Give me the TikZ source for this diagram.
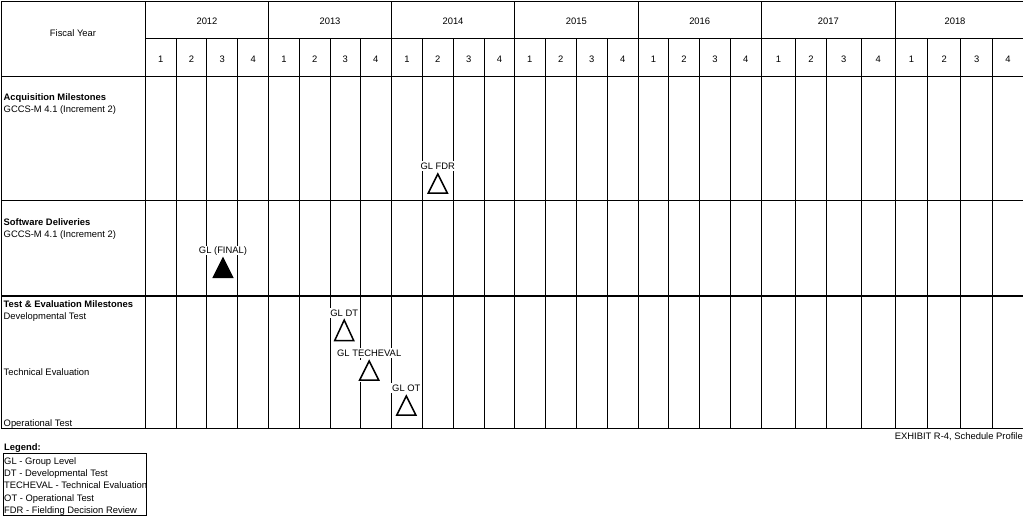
\documentclass[tikz,border=0pt]{standalone}
\usepackage{fontspec}
\setmainfont{Liberation Sans}
\usepackage{tikz}
\usetikzlibrary{positioning}

\begin{document}
\begin{tikzpicture}[
    x=1pt, y=-1pt,
    grid/.style={line width=0.8pt, black},
    heading/.style={font=\fontsize{9.4}{11}\selectfont, inner sep=0pt},
    rowtitle/.style={font=\fontsize{9.4}{11}\selectfont\bfseries, anchor=base west, inner sep=0pt},
    rowtext/.style={font=\fontsize{9.4}{11}\selectfont, anchor=base west, inner sep=0pt},
    tag/.style={font=\fontsize{9.4}{11}\selectfont, fill=white, inner sep=1.5pt, text height=6.8pt, text depth=0pt},
    tri/.style={minimum width=24pt, minimum height=22pt, inner sep=0pt, fill=white,
        path picture={\draw[line width=1.5pt, fill=#1]
            ([shift={(2.5pt,1.5pt)}]path picture bounding box.south west) --
            ([yshift=-1.5pt]path picture bounding box.north) --
            ([shift={(-2.5pt,1.5pt)}]path picture bounding box.south east) -- cycle;}},
    tri/.default=white
]
    \useasboundingbox (0,0) rectangle (1023,520);

    % Table frame
    \draw[grid] (1,1) -- (1023,1);
    \draw[grid] (145.3,38.3) -- (1023,38.3);
    \draw[grid] (1,76.3) -- (1023,76.3);
    \draw[grid] (1,200.3) -- (1023,200.3);
    \draw[line width=1.8pt] (1,296) -- (1023,296);
    \draw[grid] (1,428) -- (1023,428);
    \draw[grid] (1,1) -- (1,428);

    % Year and quarter columns
    \foreach \x in {145.3,268.7,391.5,514.4,638.2,761.3,895.3}
        \draw[grid] (\x,1) -- (\x,428);
    \foreach \x in {176.3,206.7,237.7,299.3,330.2,360.3,422.3,453.3,484.3,545.3,576.3,607.3,
                    668.6,699.4,730.3,795.7,826.3,861.3,927.7,960.7,992.7}
        \draw[grid] (\x,38.3) -- (\x,428);

    % Header labels
    \node[heading] (fy) at (73,33.3) {Fiscal Year};
    \foreach \yr/\x in {2012/207,2013/330,2014/453,2015/576.3,2016/699.7,2017/828.3,2018/955}
        \node[heading] (y\yr) at (\x,21) {\yr};
    \foreach \x [count=\i from 0] in {160.8,191.5,222.2,253.2,284,314.8,345.2,375.8,406.9,437.8,468.8,499.4,
                    529.8,560.8,591.8,622.7,653.4,684,714.9,745.8,778.5,811,843.8,878.3,911.5,944.2,976.7,1008}
        {\pgfmathtruncatemacro{\q}{mod(\i,4)+1}
         \node[heading] (q\i) at (\x,59) {\q};}

    % Row titles
    \node[rowtitle] (acq) at (3.5,100.2) {Acquisition Milestones};
    \node[rowtext] (acqsub) at (3.5,112.5) {GCCS-M 4.1 (Increment 2)};
    \node[rowtitle] (sw) at (3.5,225.5) {Software Deliveries};
    \node[rowtext] (swsub) at (3.5,237.5) {GCCS-M 4.1 (Increment 2)};
    \node[rowtitle] (te) at (3.5,307.5) {Test \& Evaluation Milestones};
    \node[rowtext] (dtrow) at (3.5,319.2) {Developmental Test};
    \node[rowtext] (terow) at (3.5,375.8) {Technical Evaluation};
    \node[rowtext] (otrow) at (3.5,426) {Operational Test};

    % Milestones
    \node[tri] (fdr) at (437.8,183.5) {};
    \node[tag, above=1pt of fdr] (fdrtag) {GL FDR};
    \node[tri=black] (final) at (223,267.8) {};
    \node[tag, above=1pt of final] (finaltag) {GL (FINAL)};
    \node[tri, minimum height=23.5pt] (dt) at (344.2,330.3) {};
    \node[tag, above=0pt of dt] (dttag) {GL DT};
    \node[tri] (techeval) at (369.2,370.5) {};
    \node[tag, above=1pt of techeval] (techevaltag) {GL TECHEVAL};
    \node[tri] (ot) at (406.3,405.5) {};
    \node[tag, above=1pt of ot] (ottag) {GL OT};

    % Exhibit caption
    \node[rowtext, anchor=base east] (exhibit) at (1023,439) {EXHIBIT R-4, Schedule Profile};

    % Legend
    \node[rowtitle] (legend) at (4,450.2) {Legend:};
    \draw[grid] (3.3,453.3) rectangle (146,515.7);
    \node[rowtext] (lgl) at (4,464) {GL - Group Level};
    \node[rowtext] (ldt) at (4,476.2) {DT - Developmental Test};
    \node[rowtext] (lte) at (4,488.6) {TECHEVAL - Technical Evaluation};
    \node[rowtext] (lot) at (4,501) {OT - Operational Test};
    \node[rowtext] (lfdr) at (4,513.4) {FDR - Fielding Decision Review};
\end{tikzpicture}
\end{document}
